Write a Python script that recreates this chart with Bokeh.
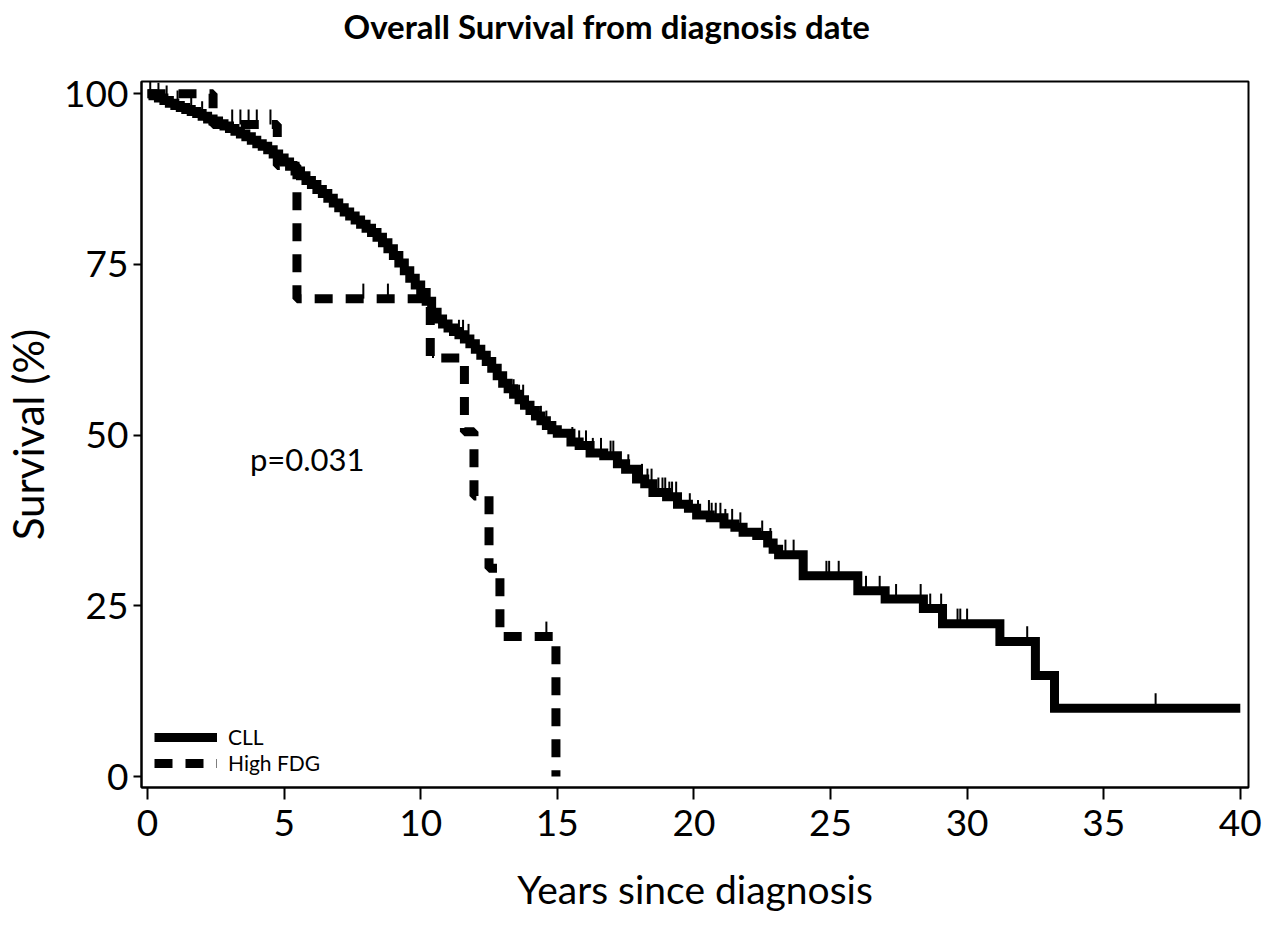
import numpy as np
from bokeh.plotting import figure
from bokeh.models import Range1d, Legend, LegendItem, Label, FixedTicker, Title
from bokeh.embed import file_html
from bokeh.resources import INLINE

# ---------------- data ----------------
title_text = "Overall Survival from diagnosis date"
x_label = "Years since diagnosis"
y_label = "Survival (%)"
x_ticks = [0, 5, 10, 15, 20, 25, 30, 35, 40]
y_ticks = [0, 25, 50, 75, 100]
p_value_text = "p=0.031"

cll_time = [0, 0.2, 0.4, 0.6, 0.8, 1.0, 1.2, 1.4, 1.6, 1.8,
            2.0, 2.2, 2.4, 2.6, 2.8, 3.0, 3.2, 3.4, 3.6, 3.8,
            4.0, 4.2, 4.4, 4.6, 4.8, 5.0, 5.2, 5.4, 5.6, 5.8,
            6.0, 6.2, 6.4, 6.6, 6.8, 7.0, 7.2, 7.4, 7.6, 7.8,
            8.0, 8.2, 8.4, 8.6, 8.8, 9.0, 9.2, 9.4, 9.6, 9.8,
            10.0, 10.2, 10.4, 10.6, 10.8, 11.0, 11.2, 11.4, 11.6, 11.8,
            12.0, 12.2, 12.4, 12.6, 12.8, 13.0, 13.2, 13.4, 13.6, 13.8,
            14.0, 14.2, 14.4, 14.6, 14.8, 15.0, 15.5, 15.8, 16.2, 16.7,
            17.2, 17.5, 17.9, 18.2, 18.5, 19.0, 19.4, 19.8, 20.1, 20.6,
            21.1, 21.5, 21.8, 22.3, 22.7, 22.9, 23.1, 24.0, 26.0, 27.0,
            28.4, 29.1, 31.2, 32.5, 33.2, 40.0]
cll_surv = [100, 99.7, 99.4, 99.0, 98.6, 98.3, 98.0, 97.7, 97.4, 97.1,
            96.7, 96.3, 96.0, 95.6, 95.3, 94.9, 94.5, 94.1, 93.7, 93.2,
            92.7, 92.3, 91.8, 91.2, 90.6, 90.0, 89.4, 88.7, 88.0, 87.3,
            86.7, 86.0, 85.4, 84.7, 84.0, 83.3, 82.7, 82.1, 81.5, 80.9,
            80.3, 79.7, 79.0, 78.2, 77.3, 76.3, 75.2, 74.1, 73.0, 72.0,
            70.9, 69.6, 68.0, 67.0, 66.3, 65.7, 65.2, 64.7, 64.1, 63.4,
            62.6, 61.7, 60.8, 59.8, 58.7, 57.6, 56.8, 56.0, 55.2, 54.4,
            53.6, 52.8, 52.1, 51.4, 50.8, 50.3, 49.0, 48.5, 47.4, 47.0,
            45.8, 45.0, 43.6, 42.9, 41.6, 41.0, 39.9, 39.3, 38.3, 37.9,
            37.0, 36.5, 35.8, 35.3, 34.2, 33.3, 32.5, 29.4, 27.2, 26.0,
            24.6, 22.4, 19.8, 14.8, 10.0, 10.0]
cll_censor_time = [0.1, 0.4, 0.7, 1.1, 1.6, 2.0, 11.4, 11.55, 11.75, 13.4,
                   13.6, 13.75, 14.4, 14.6, 15.55, 15.8, 16.05, 16.3, 16.6, 16.95,
                   17.05, 17.6, 18.1, 18.3, 18.45, 18.7, 18.85, 18.95, 19.1, 19.2,
                   19.35, 19.85, 20.15, 20.55, 20.65, 20.8, 20.97, 21.15, 21.4, 21.7,
                   22.5, 22.8, 23.35, 23.65, 24.85, 24.95, 25.3, 26.3, 26.8, 27.4,
                   28.3, 28.65, 29.05, 29.65, 29.75, 30.0, 32.2, 36.9]

fdg_time = [0, 2.4, 4.75, 5.47, 10.35, 11.6, 11.95, 12.5, 12.9, 14.95]
fdg_surv = [100, 95.5, 89.5, 70.0, 61.3, 50.5, 41.1, 30.5, 20.5, 0.0]
fdg_censor_time = [3.1, 3.4, 3.7, 4.0, 4.5, 7.9, 8.8, 10.45, 14.6]

series_names = ["CLL", "High FDG"]


def surv_at(times, survs, t):
    idx = np.searchsorted(np.asarray(times), np.asarray(t), side="right") - 1
    return np.asarray(survs)[idx]


FONT = "Lato"
X0, X1, Y0, Y1 = -0.22, 40.3, -1.6, 101.8

p = figure(width=1274, height=932, output_backend="svg", toolbar_location=None,
           x_range=Range1d(X0, X1), y_range=Range1d(Y0, Y1),
           min_border_left=141, min_border_right=26, min_border_top=81,
           min_border_bottom=145, background_fill_color="white",
           border_fill_color="white")
p.title = None

# spacer between the title and the frame, then the title itself
p.add_layout(Title(text=" ", text_font=FONT, text_font_size="28px",
                   standoff=0), "above")
p.add_layout(Title(text=title_text, text_font=FONT, text_font_size="33px",
                   text_font_style="bold", text_color="black", align="left",
                   offset=202, standoff=0), "above")

p.outline_line_color = "black"
p.outline_line_width = 2
p.outline_line_alpha = 1.0
p.xgrid.visible = False
p.ygrid.visible = False

for ax in (p.xaxis[0], p.yaxis[0]):
    ax.axis_line_color = "black"
    ax.axis_line_width = 2
    ax.major_tick_line_color = "black"
    ax.major_tick_line_width = 2
    ax.major_tick_in = 0
    ax.minor_tick_line_color = None
    ax.major_label_text_font = FONT
    ax.major_label_text_font_size = "37px"
    ax.major_label_text_color = "black"
    ax.axis_label_text_font = FONT
    ax.axis_label_text_font_style = "normal"
    ax.axis_label_text_color = "black"

p.xaxis[0].ticker = FixedTicker(ticks=x_ticks)
p.yaxis[0].ticker = FixedTicker(ticks=y_ticks)
p.xaxis[0].major_tick_out = 12
p.yaxis[0].major_tick_out = 8
p.xaxis[0].major_label_standoff = 10
p.yaxis[0].major_label_standoff = 5
p.xaxis[0].axis_label = x_label
p.yaxis[0].axis_label = y_label
p.xaxis[0].axis_label_text_font_size = "39px"
p.yaxis[0].axis_label_text_font_size = "42px"
p.xaxis[0].axis_label_standoff = 27
p.yaxis[0].axis_label_standoff = 8

# High FDG (dashed)
fdg_r = p.step(fdg_time, fdg_surv, mode="after", line_color="black",
               line_width=9, line_dash="18 13")
fdg_cs = surv_at(fdg_time, fdg_surv, fdg_censor_time)
p.segment(x0=fdg_censor_time, y0=fdg_cs, x1=fdg_censor_time, y1=fdg_cs + 2.2,
          line_color="black", line_width=2)

# CLL (solid)
cll_r = p.step(cll_time, cll_surv, mode="after", line_color="black",
               line_width=9, line_join="miter")
cll_cs = surv_at(cll_time, cll_surv, cll_censor_time)
p.segment(x0=cll_censor_time, y0=cll_cs, x1=cll_censor_time, y1=cll_cs + 2.2,
          line_color="black", line_width=2)

legend = Legend(items=[LegendItem(label=series_names[0], renderers=[cll_r]),
                       LegendItem(label=series_names[1], renderers=[fdg_r])],
                location=(13, 12), orientation="vertical",
                glyph_width=63, glyph_height=20, label_height=20,
                label_standoff=11, spacing=1, padding=0, margin=0,
                border_line_color=None, background_fill_alpha=0,
                label_text_font=FONT, label_text_font_size="21px",
                label_text_color="black")
p.add_layout(legend)

p.add_layout(Label(x=3.75, y=46.5, text=p_value_text, text_font=FONT,
                   text_font_size="31px", text_color="black",
                   text_align="left", text_baseline="alphabetic"))

open("out.html", "w").write(file_html(p, INLINE))
